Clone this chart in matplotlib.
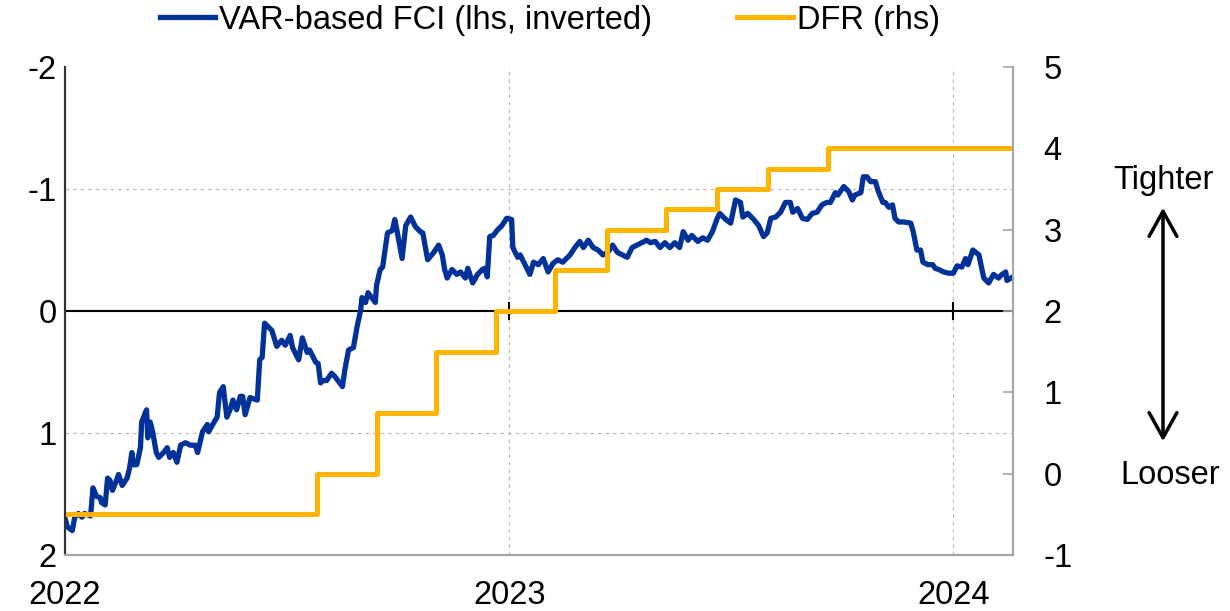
import matplotlib
matplotlib.use("Agg")
import matplotlib.pyplot as plt
import matplotlib.patches as mpatches
import pandas as pd

plt.rcParams['font.family'] = ['Liberation Sans', 'DejaVu Sans']
plt.rcParams['axes.unicode_minus'] = False

# ---- data ----
start_date = "2022-01-01"
# days since 1 Jan 2022
fci_day = [0, 2, 6, 8, 11, 14, 16, 21, 23, 26, 29, 30, 33, 35, 37, 39, 43, 44, 47, 51,
           53, 55, 56, 59, 62, 63, 67, 68, 70, 72, 75, 77, 81, 84, 86, 89, 92, 95, 99, 103,
           107, 109, 113, 117, 118, 122, 125, 127, 130, 133, 136, 138, 141, 144, 146, 148, 152, 158, 160, 162,
           164, 167, 170, 174, 178, 181, 185, 187, 192, 195, 199, 201, 206, 208, 210, 212, 215, 219, 222, 228,
           230, 233, 237, 240, 243, 244, 247, 249, 252, 255, 256, 259, 261, 265, 269, 271, 273, 277, 280, 284,
           288, 292, 294, 298, 303, 307, 310, 312, 314, 318, 322, 325, 329, 331, 335, 339, 343, 345, 347, 349,
           352, 355, 359, 363, 367, 368, 372, 374, 378, 382, 385, 389, 393, 397, 401, 405, 409, 415, 419, 423,
           426, 430, 434, 438, 442, 446, 450, 454, 458, 462, 466, 470, 474, 478, 481, 485, 489, 493, 497, 501,
           505, 508, 512, 515, 520, 524, 528, 532, 536, 538, 543, 547, 551, 555, 557, 561, 566, 570, 574, 577,
           580, 584, 588, 592, 596, 598, 602, 606, 610, 614, 618, 622, 626, 629, 633, 635, 640, 644, 647, 649,
           654, 656, 659, 662, 666, 668, 672, 674, 677, 680, 682, 685, 689, 695, 697, 700, 703, 705, 709, 713,
           715, 718, 722, 726, 730, 733, 737, 740, 742, 746, 751, 755, 759, 763, 767, 770, 773, 774, 779]
fci_value = [1.70, 1.77, 1.80, 1.69, 1.66, 1.69, 1.66, 1.68, 1.45, 1.52, 1.53, 1.57, 1.59, 1.37, 1.39, 1.47, 1.37, 1.34, 1.43, 1.37,
             1.29, 1.16, 1.26, 1.26, 1.12, 0.91, 0.81, 1.04, 0.91, 0.99, 1.16, 1.20, 1.16, 1.12, 1.20, 1.16, 1.24, 1.10, 1.08, 1.10,
             1.10, 1.16, 0.99, 0.93, 0.99, 0.92, 0.87, 0.67, 0.62, 0.87, 0.80, 0.73, 0.81, 0.70, 0.70, 0.85, 0.71, 0.73, 0.40, 0.38,
             0.10, 0.13, 0.16, 0.29, 0.24, 0.28, 0.20, 0.30, 0.40, 0.22, 0.34, 0.32, 0.42, 0.43, 0.59, 0.57, 0.57, 0.51, 0.54, 0.62,
             0.48, 0.32, 0.30, 0.13, -0.01, -0.11, -0.07, -0.15, -0.11, -0.07, -0.21, -0.34, -0.36, -0.64, -0.66, -0.75, -0.65, -0.43, -0.70, -0.77,
             -0.69, -0.65, -0.64, -0.42, -0.48, -0.54, -0.46, -0.34, -0.27, -0.34, -0.30, -0.32, -0.27, -0.35, -0.23, -0.30, -0.34, -0.35, -0.28, -0.61,
             -0.62, -0.66, -0.70, -0.76, -0.75, -0.52, -0.44, -0.46, -0.38, -0.30, -0.40, -0.38, -0.43, -0.32, -0.39, -0.42, -0.40, -0.46, -0.52, -0.57,
             -0.52, -0.58, -0.52, -0.50, -0.46, -0.48, -0.54, -0.48, -0.46, -0.44, -0.52, -0.54, -0.56, -0.58, -0.56, -0.57, -0.52, -0.56, -0.52, -0.56,
             -0.52, -0.65, -0.58, -0.62, -0.57, -0.60, -0.58, -0.65, -0.76, -0.80, -0.75, -0.72, -0.91, -0.89, -0.77, -0.80, -0.75, -0.70, -0.61, -0.64,
             -0.76, -0.77, -0.81, -0.89, -0.89, -0.81, -0.84, -0.76, -0.75, -0.80, -0.81, -0.87, -0.89, -0.89, -0.97, -0.95, -1.02, -0.98, -0.91, -0.95,
             -0.97, -1.10, -1.10, -1.06, -1.06, -0.99, -0.89, -0.89, -0.85, -0.87, -0.76, -0.73, -0.73, -0.72, -0.65, -0.50, -0.50, -0.40, -0.38, -0.38,
             -0.35, -0.34, -0.32, -0.31, -0.31, -0.37, -0.36, -0.43, -0.38, -0.50, -0.46, -0.27, -0.23, -0.30, -0.27, -0.30, -0.32, -0.25, -0.28]

dfr_dates = ["2022-01-01", "2022-07-27", "2022-09-14", "2022-11-02", "2022-12-21", "2023-02-08",
             "2023-03-22", "2023-05-10", "2023-06-21", "2023-08-02", "2023-09-20", "2024-02-19"]
dfr_values = [-0.5, 0.0, 0.75, 1.5, 2.0, 2.5, 3.0, 3.25, 3.5, 3.75, 4.0, 4.0]

year_ticks = ["2022-01-01", "2023-01-01", "2024-01-01"]
year_labels = ["2022", "2023", "2024"]
left_ticks = [-2, -1, 0, 1, 2]
right_ticks = [-1, 0, 1, 2, 3, 4, 5]

# ---- styling ----
BLUE = "#003299"
ORANGE = "#FFB400"
GRID = "#bfbfbf"
SPINE = "#a6a6a6"
FS = 23.5

fci_dates = pd.Timestamp(start_date) + pd.to_timedelta(fci_day, unit="D")
dfr_dt = pd.to_datetime(dfr_dates)
ticks_dt = pd.to_datetime(year_ticks)

fig = plt.figure(figsize=(12.3, 6.11), dpi=100)
ax = fig.add_axes([65 / 1230, 56 / 611, (1013 - 65) / 1230, (555 - 67) / 611])
ax2 = ax.twinx()

ax.set_xlim(pd.Timestamp("2022-01-01"), pd.Timestamp("2024-02-19"))
ax.set_ylim(2, -2)
ax2.set_ylim(-1, 5)

# grid & zero line
for yv in [-1, 1]:
    ax.axhline(yv, color=GRID, lw=0.9, ls=(0, (3, 3)), zorder=0)
for t in ticks_dt[1:]:
    ax.axvline(t, color=GRID, lw=0.9, ls=(0, (3, 3)), zorder=0)
ax.axhline(0, color="black", lw=1.5, zorder=1)
ax.vlines(ticks_dt[1:], -0.075, 0.075, color="black", lw=1.5, zorder=1)

l1, = ax.plot(fci_dates, fci_value, color=BLUE, lw=3.8, zorder=3,
              label="VAR-based FCI (lhs, inverted)", solid_joinstyle="round")
l2, = ax2.plot(dfr_dt, dfr_values, color=ORANGE, lw=3.6, drawstyle="steps-post",
               label="DFR (rhs)")

# axes
ax.set_yticks(left_ticks)
ax.set_yticklabels([str(v) for v in left_ticks])
ax.set_xticks(ticks_dt)
ax.set_xticklabels(year_labels)
ax.tick_params(axis="y", length=0, pad=6, labelsize=FS)
ax.tick_params(axis="x", length=0, pad=18, labelsize=FS)
ax2.set_yticks(right_ticks)
ax2.set_yticklabels([str(v) for v in right_ticks])
ax2.tick_params(axis="y", direction="in", length=7, width=1.2, color=SPINE,
                pad=22, labelsize=FS)

for a in (ax, ax2):
    a.spines["top"].set_visible(False)
    a.spines["bottom"].set_color(SPINE)
    a.spines["bottom"].set_linewidth(1.5)
    a.spines["right"].set_color(SPINE)
    a.spines["right"].set_linewidth(1.5)
    a.spines["left"].set_color("#333333")
    a.spines["left"].set_linewidth(1.5)

fig.legend(handles=[l1, l2], loc="center", bbox_to_anchor=(0.447, 0.967), ncol=2,
           frameon=False, fontsize=FS, handlelength=1.7, handletextpad=0.12,
           columnspacing=2.6)

# Tighter / Looser annotation
fig.text(1163 / 1230, 1 - 180 / 611, "Tighter", ha="center", va="center", fontsize=FS)
fig.text(1170 / 1230, 1 - 475 / 611, "Looser", ha="center", va="center", fontsize=FS)
fig.add_artist(mpatches.FancyArrowPatch(
    (1163 / 1230, 1 - 444 / 611), (1163 / 1230, 1 - 205 / 611),
    transform=fig.transFigure, arrowstyle="<->,head_length=0.9,head_width=0.5",
    mutation_scale=20, color="black", lw=2.5))

fig.savefig("out.png", dpi=100)
